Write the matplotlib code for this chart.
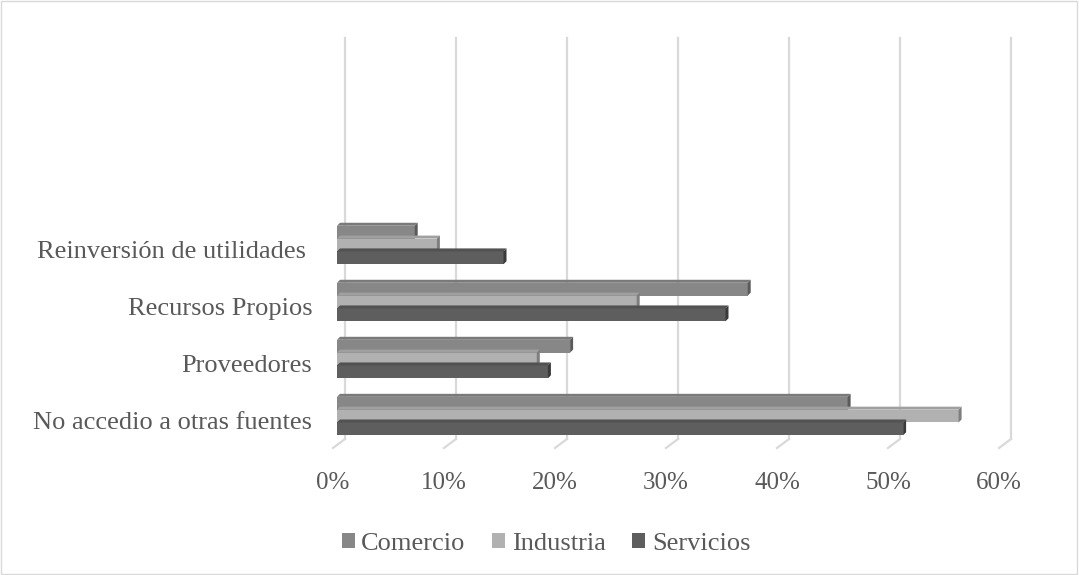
import numpy as np
import matplotlib.pyplot as plt
import matplotlib.transforms as mtransforms
from matplotlib.patches import Polygon, Rectangle, Patch

plt.rcParams['font.family'] = ['Liberation Serif', 'DejaVu Serif']

# Data (shares of firms per financing source)
categories = ['No accedio a otras fuentes', 'Proveedores', 'Recursos Propios',
              'Reinversión de utilidades ']
series = ['Comercio', 'Industria', 'Servicios']
comercio = [0.46, 0.21, 0.37, 0.07]
industria = [0.56, 0.18, 0.27, 0.09]
servicios = [0.51, 0.19, 0.35, 0.15]
xticks = [0, 0.1, 0.2, 0.3, 0.4, 0.5, 0.6]

front_cols = ['#878787', '#b1b1b1', '#5e5e5e']
top_cols = ['#7a7a7a', '#a0a0a0', '#525252']
side_cols = ['#5a5a5a', '#7e7e7e', '#3a3a3a']
text_col = '#595959'

fig = plt.figure(figsize=(10.79, 5.75), dpi=100)
ax = fig.add_axes([333/1079, 1 - 448/575, 666/1079, (448 - 38)/575])
ax.set_xlim(0, 0.6)
ax.set_ylim(-0.56, 6.63)

px = 1/100.0
def shift(dx, dy):
    return ax.transData + mtransforms.ScaledTranslation(dx*px, dy*px, fig.dpi_scale_trans)

# gridlines on the back wall, with slanted floor part
blend = mtransforms.blended_transform_factory(ax.transData, ax.transAxes)
for xv in xticks:
    back = blend + mtransforms.ScaledTranslation(12*px, 0, fig.dpi_scale_trans)
    ax.plot([xv, xv], [1, 9/410], color='#d9d9d9', lw=1.6, transform=back, clip_on=False, zorder=0)
    x0, y0 = blend.transform((xv, 0))
    p1 = fig.transFigure.inverted().transform((x0 + 12, y0 + 9))
    p2 = fig.transFigure.inverted().transform((x0, y0))
    fig.add_artist(plt.Line2D([p1[0], p2[0]], [p1[1], p2[1]], color='#d9d9d9', lw=1.6,
                              transform=fig.transFigure, zorder=0))

pos = np.arange(len(categories))
h = 0.225
offsets = [h, 0, -h]
vals = [comercio, industria, servicios]
bar_tr = shift(4, 0)
d = 3  # depth in px
for k in range(3):
    bars = ax.barh(pos + offsets[k], vals[k], height=h, color=front_cols[k], edgecolor='none', zorder=2 + k)
    for b in bars:
        b.set_transform(bar_tr)
        b.set_clip_on(False)
    for yc, v in zip(pos + offsets[k], vals[k]):
        disp = bar_tr.transform([(0, yc - h/2), (v, yc - h/2), (v, yc + h/2), (0, yc + h/2)])
        (xl, yb), (xr, _), _, (_, yt) = disp
        top = Polygon([(xl, yt), (xr, yt), (xr + d, yt + d), (xl + d, yt + d)],
                      closed=True, transform=None, facecolor=top_cols[k], edgecolor='none', zorder=2 + k)
        side = Polygon([(xr, yb), (xr + d, yb + d), (xr + d, yt + d), (xr, yt)],
                       closed=True, transform=None, facecolor=side_cols[k], edgecolor='none', zorder=2 + k)
        fig.add_artist(top)
        fig.add_artist(side)

ax.set_xticks(xticks)
ax.set_xticklabels([f'{int(round(t*100))}%' for t in xticks], fontsize=18, color=text_col)
ax.set_yticks(pos - 0.08)
ax.set_yticklabels(categories, fontsize=19, color=text_col)
ax.tick_params(axis='x', length=0, pad=17)
ax.tick_params(axis='y', length=0, pad=15)
for s in ax.spines.values():
    s.set_visible(False)
ax.patch.set_alpha(0)

handles = [Patch(facecolor=c, edgecolor='none') for c in front_cols]
leg = fig.legend(handles, series, loc='center', bbox_to_anchor=(546/1079, 1 - 544/575), ncol=3,
                 frameon=False, fontsize=19, handlelength=0.5, handleheight=0.5,
                 handletextpad=0.25, columnspacing=1.0)
for t in leg.get_texts():
    t.set_color(text_col)

fig.add_artist(Rectangle((0.001, 0.001), 0.997, 0.997, transform=fig.transFigure,
                         fill=False, edgecolor='#d9d9d9', lw=1))

fig.savefig('out.png', dpi=100)
